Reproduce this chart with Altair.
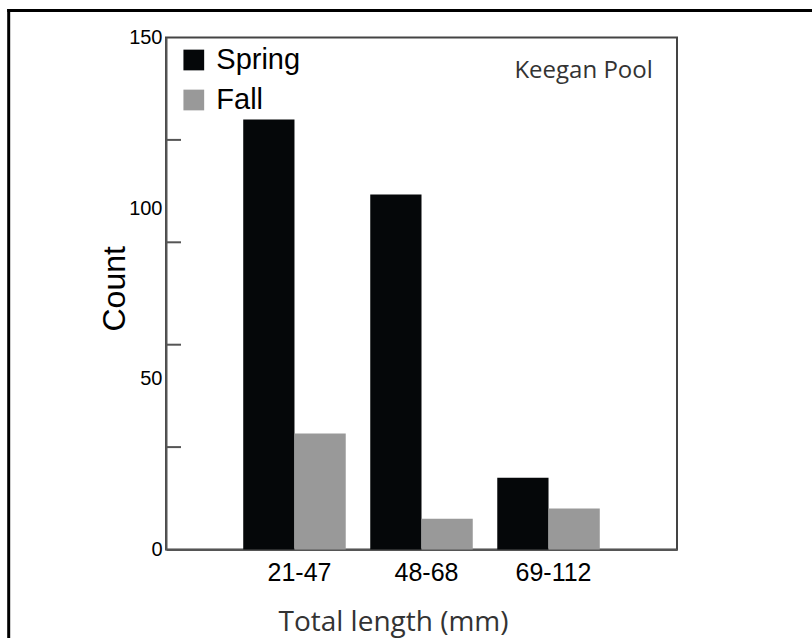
import altair as alt
import pandas as pd

# Length classes (mm) and seasonal catch counts at Keegan Pool
length_classes = ["21-47", "48-68", "69-112"]
seasons = ["Spring", "Fall"]
spring_counts = [126, 104, 21]
fall_counts = [34, 9, 12]
season_colors = ["#050709", "#999999"]

# Axis labels and inward tick marks on the count axis
y_label_values = [0, 50, 100, 150]
y_tick_values = [30, 60, 90, 120]

rows = []
for i, cls in enumerate(length_classes):
    rows.append({"length": cls, "season": "Spring", "count": spring_counts[i]})
    rows.append({"length": cls, "season": "Fall", "count": fall_counts[i]})
df = pd.DataFrame(rows)

SANS = "Liberation Sans, Arial, sans-serif"
HUMANIST = "Open Sans, Noto Sans, sans-serif"

W, H = 511, 512
y_scale = alt.Scale(domain=[0, 150], nice=False, zero=True)

bars = alt.Chart(df).mark_bar(opacity=1).encode(
    x=alt.X(
        "length:N",
        sort=length_classes,
        scale=alt.Scale(paddingInner=0.193, paddingOuter=0.608),
        axis=alt.Axis(
            title="Total length (mm)",
            labelAngle=0,
            labelFont=SANS,
            labelFontSize=25,
            labelColor="black",
            labelPadding=11,
            labelOffset=5,
            ticks=False,
            tickSize=0,
            titleFont=HUMANIST,
            titleFontSize=28,
            titleFontWeight="normal",
            titleColor="#333333",
            titleX=227,
            titleY=80.5,
            titleBaseline="alphabetic",
            titleAlign="center",
        ),
    ),
    xOffset=alt.XOffset("season:N", sort=seasons),
    y=alt.Y(
        "count:Q",
        scale=y_scale,
        axis=alt.Axis(
            title="Count",
            values=y_label_values,
            grid=False,
            ticks=False,
            tickSize=0,
            labelFont=SANS,
            labelFontSize=20,
            labelColor="black",
            labelPadding=4,
            titleFont=SANS,
            titleFontSize=32,
            titleFontWeight="normal",
            titleColor="black",
            titleAngle=270,
            titleX=-42,
            titleY=250.8,
            titleBaseline="alphabetic",
            titleAlign="center",
        ),
    ),
    color=alt.Color(
        "season:N",
        sort=seasons,
        scale=alt.Scale(domain=seasons, range=season_colors),
        legend=alt.Legend(
            orient="none",
            legendX=13.3,
            legendY=8,
            title=None,
            symbolType="square",
            symbolSize=430,
            symbolStrokeWidth=0,
            symbolOpacity=1,
            labelFont=SANS,
            labelFontSize=29,
            labelColor="black",
            labelOffset=8,
            rowPadding=10,
            padding=0,
        ),
    ),
)

# Inward tick marks along the count axis
inner_ticks = alt.Chart(pd.DataFrame({"count": y_tick_values})).mark_rule(
    color="#555555", strokeWidth=2
).encode(
    y=alt.Y("count:Q", scale=y_scale),
    x=alt.value(0),
    x2=alt.value(15),
)

site_label = alt.Chart(pd.DataFrame({"site": ["Keegan Pool"]})).mark_text(
    font=HUMANIST, fontSize=24, color="#333333", align="center", baseline="alphabetic"
).encode(
    text="site:N",
    x=alt.value(417.6),
    y=alt.value(40.8),
)

# Page frame: left and top edges
frame_df = pd.DataFrame({"k": [0]})
frame_left = alt.Chart(frame_df).mark_rule(color="black", strokeWidth=3).encode(
    x=alt.value(-157.3), y=alt.value(-28.5), y2=alt.value(700)
)
frame_top = alt.Chart(frame_df).mark_rule(color="black", strokeWidth=3).encode(
    x=alt.value(-158.8), x2=alt.value(800), y=alt.value(-27)
)

chart = alt.layer(bars, inner_ticks, site_label, frame_left, frame_top).properties(
    width=W,
    height=H,
    background="white",
    padding={"left": 166, "top": 37.5, "right": 135, "bottom": 88.5},
    autosize=alt.AutoSizeParams(type="none"),
).configure_view(
    stroke="#444444", strokeWidth=2
).configure_axis(
    domainColor="#555555", domainWidth=2
)

chart.save("out.html", embed_options={"renderer": "svg", "actions": False})
